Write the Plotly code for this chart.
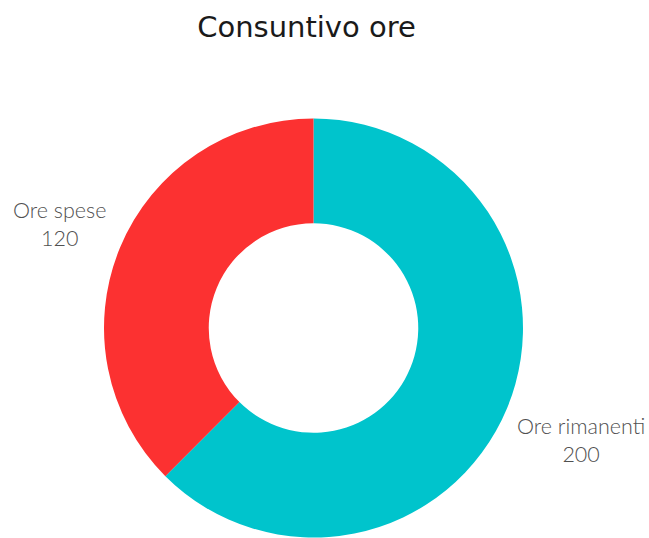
import math
import plotly.graph_objects as go

labels = ["Ore rimanenti", "Ore spese"]
values = [200, 120]
colors = ["#00C4CC", "#FC3131"]
title_text = "Consuntivo ore"

fig = go.Figure(
    go.Pie(
        labels=labels,
        values=values,
        hole=0.5,
        sort=False,
        direction="clockwise",
        rotation=0,
        marker=dict(colors=colors, line=dict(width=0)),
        textinfo="none",
        hoverinfo="label+value",
        showlegend=False,
        automargin=False,
    )
)

# outside labels placed around the ring, derived from slice angles
total = sum(values)
cum = 0
label_radius = 0.55     # in paper units (pie radius = 0.5)
angle_shift = 5.5       # degrees, clockwise
annotations = []
for lab, val in zip(labels, values):
    mid = (cum + val / 2) / total * 360 + angle_shift
    cum += val
    th = math.radians(mid)
    x = 0.5 + label_radius * math.sin(th)
    y = 0.5 + label_radius * math.cos(th)
    annotations.append(
        dict(
            text=f"{lab}<br>{val}",
            x=x, y=y, xref="paper", yref="paper",
            xanchor="left" if math.sin(th) > 0 else "right",
            yanchor="middle",
            yshift=-4,
            xshift=-2,
            align="center",
            showarrow=False,
            font=dict(family="Lato", size=21.5, color="#505050", weight=300),
        )
    )

fig.update_layout(
    width=649,
    height=538,
    margin=dict(l=104, r=126, t=118, b=0),
    paper_bgcolor="white",
    plot_bgcolor="white",
    annotations=annotations,
    title=dict(
        text=title_text,
        x=306.5 / 649,
        xanchor="center",
        y=1 - 27 / 538,
        yanchor="middle",
        yref="container",
        font=dict(family="DejaVu Sans", size=29, color="#1a1a1a"),
    ),
)

fig.write_html("out.html")
